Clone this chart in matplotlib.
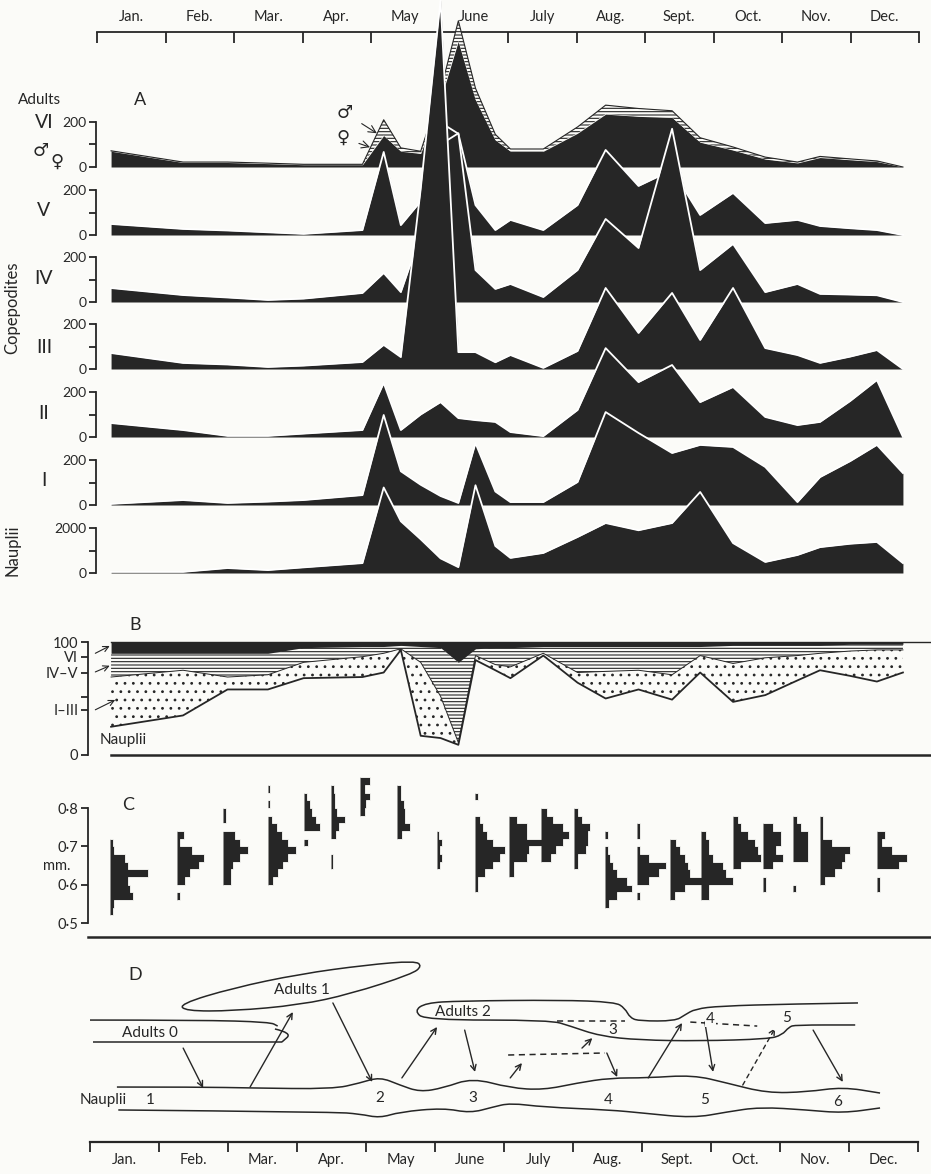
import numpy as np
import matplotlib.pyplot as plt
from matplotlib.path import Path
from matplotlib.patches import PathPatch

plt.rcParams['font.family'] = ['Lato', 'DejaVu Sans']
plt.rcParams['hatch.linewidth'] = 0.8

INK = '#262626'
PAPER = '#fbfbf8'

month_names = ['Jan.', 'Feb.', 'Mar.', 'Apr.', 'May', 'June', 'July',
               'Aug.', 'Sept.', 'Oct.', 'Nov.', 'Dec.']

# ---- A: numbers per stage (months from 1 Jan) ----
sample_months = [0.22, 1.27, 1.92, 2.51, 3.03, 3.89, 4.20, 4.45, 4.74, 5.03, 5.29, 5.54, 5.83, 6.05,
                 6.53, 7.03, 7.44, 7.92, 8.41, 8.82, 9.30, 9.77, 10.24, 10.57, 11.01, 11.40, 11.78]
vi_female = [70, 20, 20, 15, 10, 10, 140, 70, 60, 300, 560, 300, 120, 70,
             70, 150, 235, 225, 220, 110, 75, 35, 18, 42, 32, 24, 0]
vi_male = [2, 2, 2, 2, 2, 2, 70, 15, 10, 40, 90, 50, 25, 10,
           10, 28, 40, 35, 30, 20, 14, 9, 4, 5, 4, 3, 0]
v_vals = [49, 27, 20, 12, 5, 22, 369, 44, 150, 500, 450, 133, 22, 67,
          22, 133, 378, 218, 289, 89, 187, 53, 67, 40, 30, 22, 0]
iv_vals = [62, 31, 20, 9, 15, 40, 129, 44, 300, 700, 750, 142, 58, 80,
           22, 142, 369, 240, 770, 142, 258, 44, 80, 36, 33, 30, 0]
iii_vals = [71, 27, 20, 9, 15, 31, 107, 53, 800, 1640, 75, 75, 30, 62,
            5, 80, 360, 160, 338, 129, 360, 93, 62, 27, 55, 84, 0]
ii_vals = [62, 31, 5, 5, 15, 31, 240, 31, 100, 155, 84, 75, 67, 22,
           4, 120, 395, 244, 320, 155, 222, 89, 53, 67, 160, 253, 0]
i_vals = [5, 22, 9, 15, 22, 44, 400, 150, 90, 40, 9, 275, 60, 13,
          13, 102, 413, 320, 231, 267, 258, 169, 13, 124, 195, 267, 142]
nauplii_vals = [50, 50, 220, 130, 250, 440, 3800, 2300, 1500, 650, 260, 3900, 1200, 670,
                890, 1600, 2220, 1900, 2220, 3600, 1330, 490, 800, 1150, 1300, 1380, 440]

# ---- B: cumulative percentage composition ----
b_nauplii_top = [25, 35, 58, 58, 68, 69, 73, 93, 17, 15, 9, 84, 75, 68,
                 88, 64, 50, 58, 49, 73, 47, 53, 66, 75, 70, 65, 73]
b_i_iii_top = [69, 75, 69, 71, 82, 87, 90, 94, 82, 52, 11, 88, 80, 78,
               90, 73, 74, 75, 71, 88, 81, 86, 88, 90, 92, 93, 93]
b_iv_v_top = [90, 90, 90, 90, 95, 96, 96, 97, 96, 95, 82, 94, 95, 95,
              96, 96, 96, 96, 96, 96, 97, 97, 97, 97, 98, 98, 98]

# ---- C: length frequency of adults (0.02 mm classes) ----
hist_months = [0.20, 1.18, 1.85, 2.51, 3.04, 3.43, 3.85, 4.39, 4.98, 5.53, 6.03,
               6.50, 6.98, 7.43, 7.90, 8.38, 8.83, 9.30, 9.74, 10.18, 10.57, 11.40]
hist_lo = [0.52, 0.56, 0.60, 0.60, 0.70, 0.64, 0.78, 0.72, 0.64, 0.58, 0.62,
           0.66, 0.64, 0.54, 0.56, 0.56, 0.56, 0.64, 0.58, 0.58, 0.60, 0.58]
hist_counts = [
    [3, 4, 23, 20, 18, 38, 18, 15, 4, 3],
    [3, 0, 8, 13, 22, 27, 15, 3, 7],
    [8, 8, 10, 17, 25, 17, 12, 0, 3, 3],
    [5, 10, 15, 20, 28, 20, 14, 9, 4, 0, 2, 0, 2],
    [4, 0, 16, 12, 8, 6, 3],
    [2, 2, 0, 0, 5, 8, 14, 6, 4, 4, 3],
    [5, 6, 10, 5, 10],
    [5, 13, 8, 8, 7, 4, 4],
    [3, 5, 3, 5, 2],
    [3, 3, 10, 18, 25, 30, 18, 12, 8, 5, 0, 0, 3],
    [5, 5, 18, 20, 40, 18, 18, 8],
    [10, 15, 22, 28, 22, 12, 6],
    [4, 4, 12, 14, 14, 16, 8, 4],
    [4, 12, 27, 22, 12, 8, 5, 3, 0, 3],
    [3, 0, 12, 22, 29, 12, 3, 0, 3, 3],
    [5, 15, 32, 20, 18, 15, 10, 6],
    [8, 8, 32, 25, 22, 12, 8, 8, 5],
    [8, 28, 25, 22, 15, 8, 5],
    [3, 3, 0, 10, 20, 13, 18, 18, 10],
    [3, 0, 0, 0, 15, 15, 15, 15, 8, 4],
    [5, 15, 22, 25, 30, 12, 3, 3, 3],
    [3, 3, 0, 22, 30, 15, 5, 8],
]
hist_bin = 0.02

# ---- D: schematic of generations (month, level) ----
naup_up_m = [0.39, 1.59, 2.32, 3.52, 3.91, 4.20, 4.49, 4.78, 5.12, 5.54, 6.09, 6.57, 7.06, 7.54,
             8.07, 8.74, 9.23, 9.81, 10.39, 10.91, 11.45]
naup_up_l = [3.02, 3.02, 2.97, 2.91, 3.24, 3.57, 3.13, 2.75, 2.97, 3.52, 2.97, 2.86, 3.24, 3.52,
             3.52, 3.68, 3.24, 2.69, 2.75, 3.02, 2.69]
naup_lo_m = [0.41, 3.52, 3.91, 4.20, 4.49, 5.12, 5.51, 5.84, 6.09, 6.57, 7.54, 8.01, 8.74, 9.23,
             9.71, 10.39, 10.91, 11.45]
naup_lo_l = [1.76, 1.65, 1.54, 1.32, 1.65, 1.87, 1.59, 1.92, 2.14, 1.92, 1.76, 1.59, 1.32, 1.65,
             1.92, 1.76, 1.59, 1.87]
ad0_up_m = [0.0, 1.59, 2.61, 2.72]
ad0_up_l = [6.70, 6.70, 6.59, 6.37]
ad0_hook_m = [2.68, 2.93, 2.78]
ad0_hook_l = [6.21, 5.99, 5.49]
ad0_lo_m = [0.04, 2.78]
ad0_lo_l = [5.49, 5.49]
ad1_m = [1.30, 2.07, 3.04, 4.01, 4.71, 4.81, 4.67, 3.77, 3.04, 2.07, 1.38]
ad1_l = [7.58, 8.46, 9.23, 9.73, 9.95, 9.67, 9.23, 8.13, 7.53, 7.20, 7.20]
ad2_m = [11.13, 10.14, 9.13, 8.77, 8.62, 8.48, 7.97, 7.83, 7.75, 7.61, 6.81, 5.36, 4.86,
         4.70, 4.86, 6.67, 6.96, 7.39, 7.97, 8.84, 9.83, 10.03, 10.13, 10.22, 11.09]
ad2_l = [7.64, 7.58, 7.47, 7.31, 6.98, 6.65, 6.65, 6.81, 7.36, 7.69, 7.80, 7.75, 7.64,
         7.20, 6.70, 6.70, 6.37, 5.82, 5.60, 5.55, 5.66, 5.88, 6.32, 6.43, 6.43]
dash_m = [[6.77, 7.75], [8.70, 9.67], [6.06, 7.46]]
dash_l = [[6.65, 6.65], [6.59, 6.37], [4.78, 4.89]]
arr_from_m = [1.35, 2.32, 3.52, 4.52, 5.43, 6.09, 7.13, 7.49, 8.09, 8.91, 9.46, 10.48]
arr_from_l = [5.16, 3.02, 7.64, 3.52, 6.15, 3.52, 5.16, 4.89, 3.52, 6.59, 3.13, 6.15]
arr_to_m = [1.64, 2.94, 4.09, 5.03, 5.58, 6.26, 7.28, 7.64, 8.58, 9.03, 9.93, 10.91]
arr_to_l = [2.97, 7.14, 3.30, 6.32, 3.85, 4.34, 5.71, 3.57, 6.54, 3.85, 6.26, 3.30]
arr_dotted = [False] * 10 + [True, False]
d_text = ['Adults 0', 'Adults 1', 'Adults 2', 'Nauplii', '1', '2', '3', '4', '5', '6', '3', '4', '5']
d_text_m = [0.87, 3.07, 5.41, 0.19, 0.87, 4.20, 5.55, 7.51, 8.91, 10.84, 7.57, 8.99, 10.10]
d_text_l = [5.99, 8.35, 7.14, 2.31, 2.31, 2.42, 2.42, 2.31, 2.31, 2.20, 6.15, 6.76, 6.81]

W, H = 931, 1174
fig = plt.figure(figsize=(W / 100, H / 100), dpi=100, facecolor=PAPER)


def add_ax(left, top, right, bottom):
    ax = fig.add_axes([left / W, 1 - bottom / H, (right - left) / W, (bottom - top) / H])
    ax.set_facecolor('none')
    for s in ax.spines.values():
        s.set_visible(False)
        s.set_color(INK)
        s.set_linewidth(1.3)
    ax.set_xticks([])
    ax.set_yticks([])
    return ax


def label(x, y, s, size=11, ha='center', va='center', **kw):
    fig.text(x / W, 1 - y / H, s, size=size, color=INK, ha=ha, va=va, **kw)


def smooth(ax, xs, ys, closed=False, **kw):
    pts = list(zip(xs, ys))
    if closed:
        n = len(pts)
        mids = [((pts[i][0] + pts[(i + 1) % n][0]) / 2, (pts[i][1] + pts[(i + 1) % n][1]) / 2)
                for i in range(n)]
        verts, codes = [mids[-1]], [Path.MOVETO]
        for i in range(n):
            verts += [pts[i], mids[i]]
            codes += [Path.CURVE3, Path.CURVE3]
    else:
        verts, codes = [pts[0]], [Path.MOVETO]
        for i in range(1, len(pts) - 1):
            mid = ((pts[i][0] + pts[i + 1][0]) / 2, (pts[i][1] + pts[i + 1][1]) / 2)
            verts += [pts[i], mid]
            codes += [Path.CURVE3, Path.CURVE3]
        verts.append(pts[-1])
        codes.append(Path.LINETO)
    ax.add_patch(PathPatch(Path(verts, codes), fill=False, color=INK, **kw))


# ---- top month axis ----
ax_top = add_ax(97, 32, 919, 40)
ax_top.set_xlim(0, 12)
ax_top.spines['top'].set_visible(True)
ax_top.xaxis.tick_top()
ax_top.set_xticks(np.arange(13))
ax_top.set_xticks(np.arange(12) + 0.5, minor=True)
ax_top.set_xticklabels([], minor=False)
ax_top.set_xticklabels(month_names, minor=True)
ax_top.tick_params(axis='x', which='major', direction='in', length=8, width=1.3, color=INK)
ax_top.tick_params(axis='x', which='minor', length=0, pad=6, labelsize=10.5, labelcolor=INK)

# ---- A ----
row_base = [167, 235, 302, 369, 437, 505, 573]
row_vals = [None, v_vals, iv_vals, iii_vals, ii_vals, i_vals, nauplii_vals]
row_top = [200, 200, 200, 200, 200, 200, 2000]
row_names = ['VI', 'V', 'IV', 'III', 'II', 'I', '']
row_name_y = [123, 210, 278, 347, 414, 481, 0]

for k in range(7):
    ax = add_ax(96, row_base[k] - 45, 918, row_base[k])
    ax.set_xlim(0, 12)
    ax.set_ylim(0, row_top[k])
    ax.spines['left'].set_visible(True)
    ax.set_yticks([0, row_top[k] / 2, row_top[k]])
    ax.set_yticklabels(['0', '', str(row_top[k])])
    ax.tick_params(axis='y', direction='out', length=5, width=1.3, color=INK,
                   labelsize=10, labelcolor=INK, pad=2)
    if k == 0:
        total = np.array(vi_female) + np.array(vi_male)
        ax.fill_between(sample_months, 0, vi_female, color=INK, lw=0, clip_on=False)
        ax.fill_between(sample_months, vi_female, total, facecolor=PAPER, edgecolor=INK,
                        hatch='-----', lw=0, clip_on=False)
        ax.plot(sample_months, total, color=INK, lw=0.8, clip_on=False)
        ax.annotate('♂', xy=(4.10, 150), xytext=(345 / W, 1 - 113 / H), textcoords='figure fraction',
                    ha='center', va='center', size=13, color=INK,
                    arrowprops=dict(arrowstyle='->', lw=0.8, color=INK, shrinkA=5, shrinkB=0))
        ax.annotate('♀', xy=(4.00, 88), xytext=(343 / W, 1 - 138 / H), textcoords='figure fraction',
                    ha='center', va='center', size=13, color=INK,
                    arrowprops=dict(arrowstyle='->', lw=0.8, color=INK, shrinkA=5, shrinkB=0))
    else:
        ax.fill_between(sample_months, 0, row_vals[k], color=INK, lw=0, clip_on=False)
        ax.plot(sample_months, row_vals[k], color='white', lw=1.3, clip_on=False)
    if row_names[k]:
        label(44, row_name_y[k], row_names[k], size=14)

label(40, 100, 'Adults', size=11)
label(140, 100, 'A', size=13)
label(41, 151, '♂', size=13)
label(57, 162, '♀', size=13)
label(12, 308, 'Copepodites', size=12, rotation=90)
label(12, 550, 'Nauplii', size=12, rotation=90)

# ---- B ----
xl0, xl1 = (88 - 96) / 68.5, (930 - 96) / 68.5
ax_b = add_ax(88, 642, 930, 755)
ax_b.set_xlim(xl0, xl1)
ax_b.set_ylim(0, 100)
ax_b.spines['left'].set_visible(True)
ax_b.set_yticks([0, 40, 51, 73, 87, 100])
ax_b.set_yticklabels(['0', 'I–III', '', 'IV–V', 'VI', '100'])
ax_b.tick_params(axis='y', direction='out', length=5, width=1.3, color=INK,
                 labelsize=10.5, labelcolor=INK, pad=2)
ax_b.fill_between(sample_months, b_nauplii_top, b_i_iii_top, facecolor=PAPER, edgecolor=INK,
                  hatch='..', lw=0)
ax_b.fill_between(sample_months, b_i_iii_top, b_iv_v_top, facecolor=PAPER, edgecolor=INK,
                  hatch='-----', lw=0)
ax_b.fill_between(sample_months, b_iv_v_top, 100, color=INK, lw=0)
ax_b.plot(sample_months, b_nauplii_top, color=INK, lw=1.3)
ax_b.plot(sample_months, b_i_iii_top, color=INK, lw=0.7)
ax_b.plot([sample_months[0], xl1], [0, 0], color=INK, lw=1.8, clip_on=False)
ax_b.plot([sample_months[0], xl1], [100, 100], color=INK, lw=1.0, clip_on=False)
for y0, x1, y1 in [(90, 0.20, 96.5), (73.5, 0.20, 79), (40, 0.28, 48.7)]:
    ax_b.annotate('', xy=(x1, y1), xytext=(-0.01, y0),
                  arrowprops=dict(arrowstyle='->', lw=0.8, color=INK, shrinkA=0, shrinkB=0))
ax_b.text(0.06, 13, 'Nauplii', size=11, color=INK, va='center')
label(135, 625, 'B', size=13)

# ---- C ----
ax_c = add_ax(88, 808, 930, 937)
ax_c.set_xlim(xl0, xl1)
ax_c.set_ylim(0.4635, 0.8)
ax_c.spines['left'].set_visible(True)
ax_c.spines['left'].set_bounds(0.5, 0.8)
ax_c.spines['bottom'].set_visible(True)
ax_c.spines['bottom'].set_linewidth(1.8)
ax_c.set_yticks([0.5, 0.6, 0.7, 0.8])
ax_c.set_yticklabels(['0·5', '0·6', '0·7', '0·8'])
ax_c.tick_params(axis='y', direction='out', length=5, width=1.3, color=INK,
                 labelsize=10.5, labelcolor=INK, pad=2)
for m, lo, counts in zip(hist_months, hist_lo, hist_counts):
    edges = lo + hist_bin * np.arange(len(counts) + 1)
    ax_c.stairs(m + np.array(counts) / 68.5, edges, baseline=m, orientation='horizontal',
                fill=True, facecolor=INK, edgecolor=PAPER, lw=0.6, clip_on=False)
label(128, 805, 'C', size=13)
label(57, 866, 'mm.', size=10.5)

# ---- D ----
ax_d = add_ax(90, 960, 918, 1142)
ax_d.set_xlim(0, 12)
ax_d.set_ylim(0, 10)
ax_d.spines['bottom'].set_visible(True)
ax_d.spines['bottom'].set_linewidth(1.6)
ax_d.set_xticks(np.arange(13))
ax_d.set_xticklabels([])
ax_d.set_xticks(np.arange(12) + 0.5, minor=True)
ax_d.set_xticklabels(month_names, minor=True)
ax_d.tick_params(axis='x', which='major', direction='out', length=7, width=1.3, color=INK)
ax_d.tick_params(axis='x', which='minor', length=0, pad=8, labelsize=10.5, labelcolor=INK)

smooth(ax_d, naup_up_m, naup_up_l, lw=1.1)
smooth(ax_d, naup_lo_m, naup_lo_l, lw=1.1)
smooth(ax_d, ad0_up_m, ad0_up_l, lw=1.1)
smooth(ax_d, ad0_hook_m, ad0_hook_l, lw=1.1)
smooth(ax_d, ad0_lo_m, ad0_lo_l, lw=1.1)
smooth(ax_d, ad1_m, ad1_l, closed=True, lw=1.1)
smooth(ax_d, ad2_m, ad2_l, lw=1.1)
for xs, ys in zip(dash_m, dash_l):
    ax_d.plot(xs, ys, color=INK, lw=1.1, ls=(0, (4, 3)))
for x0, y0, x1, y1, dotted in zip(arr_from_m, arr_from_l, arr_to_m, arr_to_l, arr_dotted):
    ax_d.annotate('', xy=(x1, y1), xytext=(x0, y0),
                  arrowprops=dict(arrowstyle='->', lw=1.0, color=INK, shrinkA=0, shrinkB=0,
                                  ls=(0, (3, 3)) if dotted else '-'))
for s, x, y in zip(d_text, d_text_m, d_text_l):
    ax_d.text(x, y, s, size=11, color=INK, ha='center', va='center',
              bbox=dict(boxstyle='square,pad=0.05', fc=PAPER, ec='none') if s == '4' and y > 5 else None)
label(135, 975, 'D', size=13)

fig.savefig('out.png', dpi=100, facecolor=PAPER)
